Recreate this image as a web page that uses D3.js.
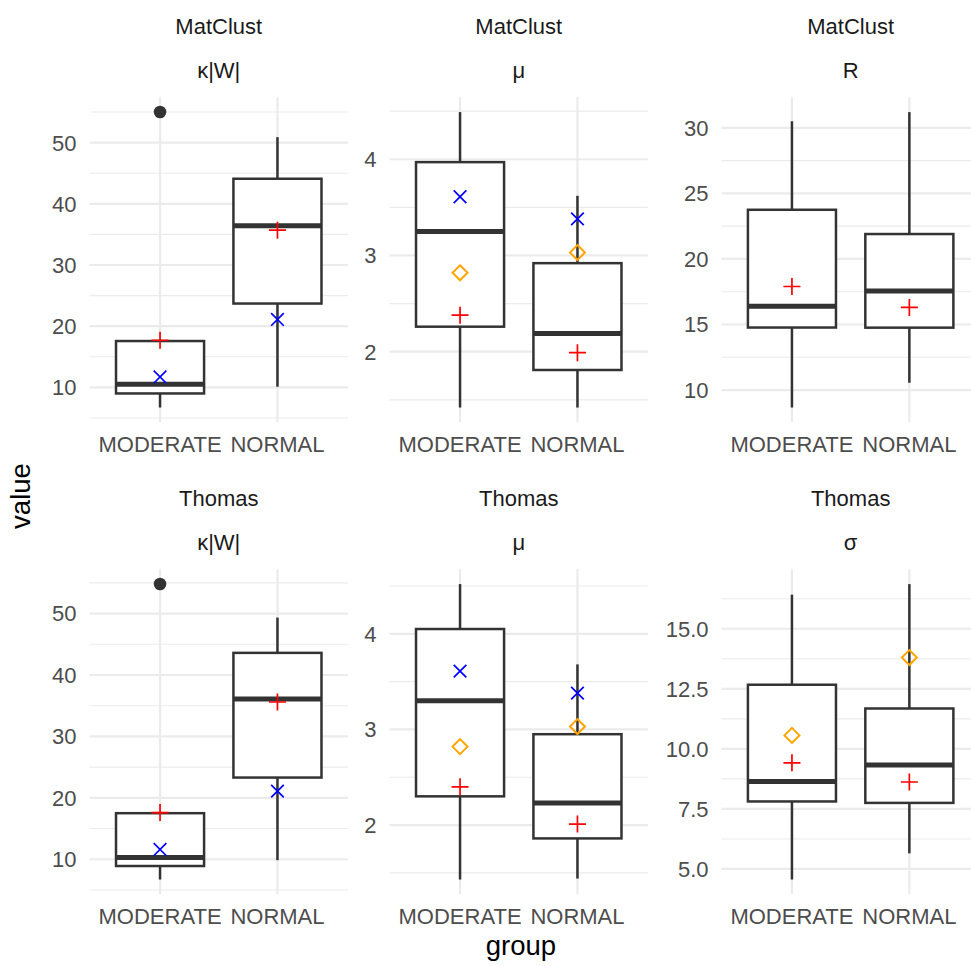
<!DOCTYPE html>
<html>
<head>
<meta charset="utf-8">
<script src="https://cdn.jsdelivr.net/npm/d3@7"></script>
<style>
  body { margin: 0; background: #fff; }
  svg { font-family: "Liberation Sans", Arial, sans-serif; }
</style>
</head>
<body>
<div id="chart"></div>
<script>
// data, one entry per facet, [MODERATE, NORMAL]
const groups = ["MODERATE", "NORMAL"];
const models = ["MatClust", "MatClust", "MatClust", "Thomas", "Thomas", "Thomas"];
const params = ["κ|W|", "μ", "R", "κ|W|", "μ", "σ"];

const whiskerLow  = [[6.7, 10.1], [1.42, 1.42], [8.67, 10.56], [6.7, 9.85], [1.43, 1.44], [4.56, 5.65]];
const q1          = [[9.0, 23.7], [2.26, 1.81], [14.77, 14.76], [8.9, 23.3], [2.30, 1.86], [7.81, 7.75]];
const median      = [[10.5, 36.4], [3.25, 2.19], [16.4, 17.56], [10.3, 36.1], [3.30, 2.23], [8.64, 9.33]];
const q3          = [[17.57, 44.1], [3.97, 2.92], [23.75, 21.9], [17.5, 43.6], [4.05, 2.95], [12.67, 11.68]];
const whiskerHigh = [[17.57, 50.9], [4.49, 3.62], [30.5, 31.2], [17.5, 49.35], [4.52, 3.68], [16.42, 16.86]];
const outliers    = [[[55.0], []], [[], []], [[], []], [[54.8], []], [[], []], [[], []]];

const redPlus       = [[17.7, 35.7], [2.38, 1.99], [17.9, 16.3], [17.6, 35.6], [2.40, 2.01], [9.42, 8.62]];
const blueCross     = [[11.7, 21.1], [3.61, 3.38], [null, null], [11.6, 21.1], [3.61, 3.38], [null, null]];
const orangeDiamond = [[null, null], [2.82, 3.03], [null, null], [null, null], [2.82, 3.03], [10.56, 13.8]];

const yTicks = [[10, 20, 30, 40, 50], [2, 3, 4], [10, 15, 20, 25, 30],
                [10, 20, 30, 40, 50], [2, 3, 4], [5, 7.5, 10, 12.5, 15]];
const tickDigits = [0, 0, 0, 0, 0, 1];

// layout
const W = 971, H = 966;
const panelLeft = [89.6, 389.6, 721.5];
const rowTop = [97.3, 569.3];
const panelW = 258.3, panelH = 325;

const svg = d3.select("#chart").append("svg")
    .attr("width", W)
    .attr("height", H);

const tickColor = "#4D4D4D", lineColor = "#333333", gridColor = "#EBEBEB";

params.forEach((p, i) => {
    const col = i % 3, row = Math.floor(i / 3);
    const x0 = panelLeft[col], y0 = rowTop[row];

    // y range from everything drawn, with ggplot's 5% expansion
    const vals = [...whiskerLow[i], ...whiskerHigh[i], ...outliers[i].flat(),
                  ...redPlus[i], ...blueCross[i], ...orangeDiamond[i]].filter(v => v != null);
    const lo = d3.min(vals), hi = d3.max(vals), pad = (hi - lo) * 0.05;

    const y = d3.scaleLinear().domain([lo - pad, hi + pad]).range([y0 + panelH, y0]);
    const x = d3.scaleLinear().domain([0.4, 2.6]).range([x0, x0 + panelW]);

    const g = svg.append("g");

    // minor grid
    const ticks = yTicks[i];
    const step = ticks[1] - ticks[0];
    const minor = d3.range(ticks[0] - step / 2, ticks[ticks.length - 1] + step, step)
                    .filter(v => v >= y.domain()[0] && v <= y.domain()[1]);
    g.selectAll(".minor").data(minor).enter().append("line")
        .attr("x1", x0).attr("x2", Math.min(x0 + panelW, W))
        .attr("y1", d => y(d)).attr("y2", d => y(d))
        .attr("stroke", gridColor).attr("stroke-width", 1.1);

    // major grid
    g.selectAll(".major").data(ticks).enter().append("line")
        .attr("x1", x0).attr("x2", x0 + panelW)
        .attr("y1", d => y(d)).attr("y2", d => y(d))
        .attr("stroke", gridColor).attr("stroke-width", 2.2);
    g.selectAll(".vgrid").data(groups).enter().append("line")
        .attr("x1", (d, j) => x(j + 1)).attr("x2", (d, j) => x(j + 1))
        .attr("y1", y0).attr("y2", y0 + panelH)
        .attr("stroke", gridColor).attr("stroke-width", 2.2);

    // y tick labels
    const fmt = d3.format("." + tickDigits[i] + "f");
    g.selectAll(".ylab").data(ticks).enter().append("text")
        .attr("x", x0 - 13).attr("y", d => y(d))
        .attr("dy", "0.36em")
        .attr("text-anchor", "end")
        .attr("font-size", 22).attr("fill", tickColor)
        .text(d => fmt(d));

    // x tick labels
    g.selectAll(".xlab").data(groups).enter().append("text")
        .attr("x", (d, j) => x(j + 1)).attr("y", y0 + panelH + 29.6)
        .attr("text-anchor", "middle")
        .attr("font-size", 22).attr("fill", tickColor)
        .text(d => d);

    // strips
    g.append("text")
        .attr("x", x0 + panelW / 2).attr("y", y0 - 63.3)
        .attr("text-anchor", "middle").attr("font-size", 22).attr("fill", "#1A1A1A")
        .text(models[i]);
    g.append("text")
        .attr("x", x0 + panelW / 2).attr("y", y0 - 19.3)
        .attr("text-anchor", "middle").attr("font-size", 22).attr("fill", "#1A1A1A")
        .text(p);

    // boxes
    const bw = 0.75 / 2;
    groups.forEach((grp, j) => {
        const cx = x(j + 1);
        g.append("line")
            .attr("x1", cx).attr("x2", cx)
            .attr("y1", y(q3[i][j])).attr("y2", y(whiskerHigh[i][j]))
            .attr("stroke", lineColor).attr("stroke-width", 2.5);
        g.append("line")
            .attr("x1", cx).attr("x2", cx)
            .attr("y1", y(q1[i][j])).attr("y2", y(whiskerLow[i][j]))
            .attr("stroke", lineColor).attr("stroke-width", 2.5);
        g.append("rect")
            .attr("x", x(j + 1 - bw)).attr("width", x(j + 1 + bw) - x(j + 1 - bw))
            .attr("y", y(q3[i][j])).attr("height", y(q1[i][j]) - y(q3[i][j]))
            .attr("fill", "#fff").attr("stroke", lineColor).attr("stroke-width", 2.5);
        g.append("line")
            .attr("x1", x(j + 1 - bw)).attr("x2", x(j + 1 + bw))
            .attr("y1", y(median[i][j])).attr("y2", y(median[i][j]))
            .attr("stroke", lineColor).attr("stroke-width", 5);
        outliers[i][j].forEach(v => {
            g.append("circle").attr("cx", cx).attr("cy", y(v)).attr("r", 6.3)
                .attr("fill", lineColor);
        });

        // summary markers
        if (orangeDiamond[i][j] != null) {
            const cy = y(orangeDiamond[i][j]), s = 7.5;
            g.append("path")
                .attr("d", `M${cx},${cy - s}L${cx + s},${cy}L${cx},${cy + s}L${cx - s},${cy}Z`)
                .attr("fill", "none").attr("stroke", "#FFA500").attr("stroke-width", 2);
        }
        if (blueCross[i][j] != null) {
            const cy = y(blueCross[i][j]), s = 6.3;
            g.append("path")
                .attr("d", `M${cx - s},${cy - s}L${cx + s},${cy + s}M${cx - s},${cy + s}L${cx + s},${cy - s}`)
                .attr("stroke", "#0000FF").attr("stroke-width", 1.7);
        }
        if (redPlus[i][j] != null) {
            const cy = y(redPlus[i][j]), s = 8.5;
            g.append("path")
                .attr("d", `M${cx - s},${cy}L${cx + s},${cy}M${cx},${cy - s}L${cx},${cy + s}`)
                .attr("stroke", "#FF0000").attr("stroke-width", 1.7);
        }
    });
});

// axis titles
svg.append("text")
    .attr("transform", `translate(30,496) rotate(-90)`)
    .attr("text-anchor", "middle").attr("font-size", 27.5).attr("fill", "#000")
    .text("value");
svg.append("text")
    .attr("x", 521).attr("y", 955)
    .attr("text-anchor", "middle").attr("font-size", 27.5).attr("fill", "#000")
    .text("group");
</script>
</body>
</html>
